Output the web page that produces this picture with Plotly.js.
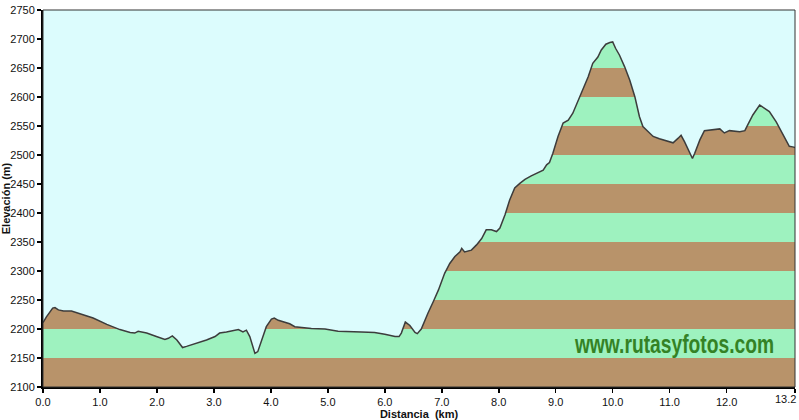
<!DOCTYPE html>
<html>
<head>
<meta charset="utf-8">
<script src="https://cdn.plot.ly/plotly-3.0.1.min.js"></script>
<style>html,body{margin:0;padding:0;background:#fff;}#chart{width:799px;height:420px;}</style>
</head>
<body>
<div id="chart"></div>
<script>
// Distance (km) along the route
var distanceKm = [0.00,0.06,0.17,0.21,0.27,0.36,0.50,0.71,0.88,1.12,1.35,1.53,1.61,1.67,1.82,1.99,2.14,2.20,2.27,2.35,2.45,2.52,2.70,2.87,3.02,3.10,3.22,3.34,3.43,3.51,3.57,3.63,3.72,3.77,3.84,3.92,4.01,4.06,4.13,4.25,4.33,4.42,4.71,4.95,5.18,5.59,5.82,6.00,6.18,6.25,6.29,6.36,6.44,6.53,6.57,6.64,6.70,6.76,6.85,6.94,7.05,7.14,7.23,7.32,7.35,7.40,7.52,7.61,7.70,7.78,7.87,7.96,8.02,8.11,8.19,8.28,8.37,8.46,8.57,8.69,8.78,8.84,8.89,8.95,9.04,9.13,9.22,9.30,9.39,9.48,9.57,9.65,9.74,9.80,9.88,9.95,10.00,10.05,10.12,10.21,10.30,10.39,10.47,10.53,10.62,10.71,10.82,10.94,11.06,11.15,11.20,11.26,11.35,11.40,11.44,11.53,11.61,11.76,11.88,11.96,12.05,12.23,12.32,12.37,12.46,12.58,12.64,12.75,12.87,12.96,13.05,13.10,13.16,13.20];
// Elevation (m)
var elevationM = [2211,2221,2236,2237,2233,2231,2231,2225,2219,2208,2199,2194,2193,2196,2193,2187,2182,2184,2188,2181,2168,2170,2175,2181,2187,2193,2195,2198,2199,2195,2198,2187,2158,2161,2181,2204,2217,2219,2215,2211,2209,2204,2201,2200,2196,2195,2194,2191,2187,2187,2193,2212,2206,2194,2192,2200,2215,2228,2247,2267,2296,2313,2325,2333,2339,2333,2336,2345,2356,2371,2371,2368,2374,2397,2422,2443,2451,2458,2464,2469,2474,2483,2487,2503,2532,2555,2560,2572,2592,2612,2635,2658,2669,2681,2691,2694,2695,2684,2672,2652,2629,2600,2566,2549,2540,2532,2528,2525,2521,2529,2534,2523,2506,2494,2503,2526,2542,2543,2545,2538,2542,2540,2542,2552,2569,2586,2582,2575,2557,2540,2523,2515,2514,2513];
// Axis ticks and labels
var xTickVals = [0,1,2,3,4,5,6,7,8,9,10,11,12,13.2];
var xTickText = ["0.0","1.0","2.0","3.0","4.0","5.0","6.0","7.0","8.0","9.0","10.0","11.0","12.0","13.2"];
var yTickVals = [2100,2150,2200,2250,2300,2350,2400,2450,2500,2550,2600,2650,2700,2750];
var xTitle = "Distancia&nbsp;&nbsp;(km)";
var yTitle = "Elevación (m)";
var watermark = "www.rutasyfotos.com";

var xMin = 0, xMax = 13.2, yMin = 2100, yMax = 2750;
var brown = "#b8936a", green = "#9ef2bf", sky = "#dcfcfd";

// Elevation bands (every 50 m), drawn below the traces
var shapes = [];
for (var k = 0; k < yTickVals.length - 1; k++) {
  shapes.push({type:"rect", xref:"x", yref:"y", layer:"below",
    x0:xMin, x1:xMax, y0:yTickVals[k], y1:yTickVals[k+1],
    fillcolor: (k % 2 === 0) ? brown : green, line:{width:0}});
}
// plot frame
shapes.push({type:"rect", xref:"paper", yref:"paper", x0:0, x1:1, y0:0, y1:1,
  line:{color:"#333", width:1}, fillcolor:"rgba(0,0,0,0)", layer:"above"});

var topLine = distanceKm.map(function(){ return yMax; });

// last tick label is right-aligned at the edge (as in the reference)
var lastIdx = xTickVals.length - 1;
var shownTickText = xTickText.map(function(t, i){ return i === lastIdx ? "" : t; });

var traces = [
  {x:distanceKm, y:elevationM, type:"scatter", mode:"lines",
   line:{color:"rgba(0,0,0,0)", width:0}, hoverinfo:"skip", showlegend:false},
  {x:distanceKm, y:topLine, type:"scatter", mode:"lines", fill:"tonexty",
   fillcolor:sky, line:{color:"rgba(0,0,0,0)", width:0}, hoverinfo:"skip", showlegend:false},
  {x:distanceKm, y:elevationM, type:"scatter", mode:"lines",
   line:{color:"#3c3c3c", width:1.5}, hoverinfo:"skip", showlegend:false}
];

var layout = {
  width:799, height:420,
  margin:{l:43, r:4, t:10, b:33, pad:0},
  paper_bgcolor:"#ffffff", plot_bgcolor:sky,
  showlegend:false,
  font:{family:"Liberation Sans, Arial, sans-serif", size:11, color:"#111"},
  xaxis:{range:[xMin,xMax], tickvals:xTickVals, ticktext:shownTickText,
    showgrid:false, zeroline:false, showline:true, linecolor:"#000", linewidth:2,
    ticks:"outside", ticklen:4, tickwidth:1.5, tickcolor:"#000",
    tickfont:{size:11, color:"#111"},
    title:{text:xTitle, font:{size:11, color:"#111", family:"Liberation Sans, Arial, sans-serif", weight:"bold"}, standoff:0}},
  yaxis:{range:[yMin,yMax], tickvals:yTickVals,
    showgrid:false, zeroline:false, showline:true, linecolor:"#000", linewidth:2,
    ticks:"outside", ticklen:4, tickwidth:1.5, tickcolor:"#000",
    tickfont:{size:11, color:"#111"},
    title:{text:yTitle, font:{size:11, color:"#111", family:"Liberation Sans, Arial, sans-serif", weight:"bold"}, standoff:0}},
  shapes:shapes,
  annotations:[
    {text:xTickText[lastIdx], xref:"x", yref:"paper", x:xTickVals[lastIdx], y:0,
     xanchor:"right", yanchor:"top", xshift:3, yshift:-4, showarrow:false,
     font:{size:11, color:"#111"}},
    {text:"<b>"+watermark+"</b>", xref:"x", yref:"y", x:11.08, y:2174,
     showarrow:false, xanchor:"center", yanchor:"middle",
     font:{family:"Liberation Sans, Arial, sans-serif", size:26, color:"#348225"}}]
};

Plotly.newPlot("chart", traces, layout, {displayModeBar:false, staticPlot:true}).then(function(gd){
  // condense the watermark horizontally to its width in the reference
  var all = gd.querySelectorAll(".annotation-text");
  var t = all[all.length - 1];
  if (t) {
    var bb = t.getBBox();
    var cx = bb.x + bb.width / 2;
    var sx = 200 / bb.width;
    t.setAttribute("transform", "translate(" + cx + ",0) scale(" + sx + ",1) translate(" + (-cx) + ",0)");
  }
});
</script>
</body>
</html>
